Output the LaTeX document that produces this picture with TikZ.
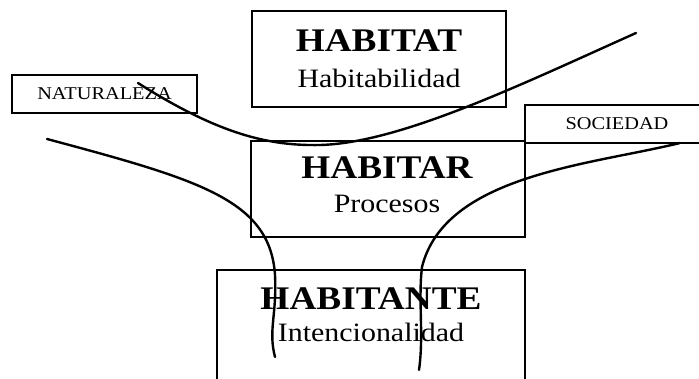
\documentclass[tikz,border=0pt]{standalone}
\usepackage{fontspec}
\setmainfont{Liberation Serif}[FakeStretch=1.13]
\begin{document}
\begin{tikzpicture}[x=1pt,y=-1pt,
box/.style={draw,line width=2pt,inner sep=0pt},
title/.style={anchor=base,font=\bfseries\fontsize{33}{33}\selectfont},
sub/.style={anchor=base,font=\fontsize{26.5}{26.5}\selectfont},
tag/.style={box,line width=2.4pt,font=\fontsize{18}{18}\selectfont},
curve/.style={line width=2.4pt,line cap=round}]

  \useasboundingbox (0,0) rectangle (699,379);
  \clip (0,0) rectangle (699,379);

  % boxes
  \node[box,minimum width=254pt,minimum height=96pt]  (habitat)   at (379,59)  {};
  \node[box,minimum width=274pt,minimum height=96pt]  (habitar)   at (388,189) {};
  \node[box,minimum width=308pt,minimum height=130pt] (habitante) at (371,335) {};
  \node[tag,minimum width=185pt,minimum height=38pt]  (naturaleza) at (104.5,94) {NATURALEZA};
  \node[box,font=\fontsize{18}{18}\selectfont,minimum width=184pt,minimum height=38pt] (sociedad) at (617,124) {SOCIEDAD};

  % texts
  \node[title] (habitatT)   at (379,52)  {HABITAT};
  \node[sub]   (habitatS)   at (379,88)  {Habitabilidad};
  \node[title] (habitarT)   at (387,179) {HABITAR};
  \node[sub]   (habitarS)   at (387,213) {Procesos};
  \node[title] (habitanteT) at (371,310) {HABITANTE};
  \node[sub]   (habitanteS) at (371,342) {Intencionalidad};

  % curve ends
  \coordinate (n0) at (138,83);
  \coordinate (n1) at (320,145);
  \coordinate (n2) at (636,33);
  \coordinate (l0) at (47,139);
  \coordinate (l1) at (275,275);
  \coordinate (l2) at (275,357);
  \coordinate (s0) at (680,143);
  \coordinate (s1) at (422,267);
  \coordinate (s2) at (419,370);

  % curves
  \draw[curve] (n0) .. controls (220,135) and (270,146) .. (n1)
                    .. controls (400,143) and (520,85) .. (n2);
  \draw[curve] (l0) .. controls (200,180) and (270,200) .. (l1)
                    .. controls (277,315) and (268,330) .. (l2);
  \draw[curve] (s0) .. controls (590,165) and (445,175) .. (s1)
                    .. controls (418,300) and (424,335) .. (s2);
\end{tikzpicture}
\end{document}
